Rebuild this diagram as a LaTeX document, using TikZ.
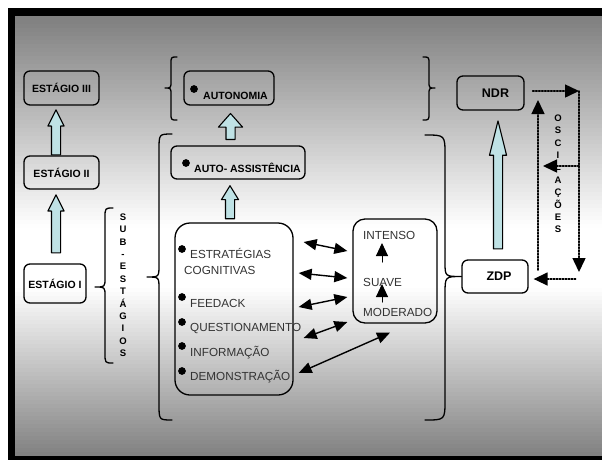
\documentclass[tikz,border=0pt]{standalone}
\usepackage{fontspec}
\setmainfont{Liberation Sans}
\usetikzlibrary{arrows.meta,shapes.arrows,calc}
\definecolor{fundo}{rgb}{0.5,0.5,0.5}
\definecolor{setaazul}{rgb}{0.75,0.886,0.9}
\definecolor{texto}{rgb}{0.2,0.2,0.2}
\begin{document}
\begin{tikzpicture}[x=1pt,y=-1pt,line join=round,line cap=round]
	\tikzset{caixa/.style={draw,rounded corners=6pt,line width=1.3pt,inner sep=0pt,font=\fontsize{10.5}{12}\selectfont\bfseries},
		seta/.style={single arrow,draw,fill=setaazul,line width=1.1pt,rotate=90,anchor=tip,inner xsep=0pt,inner ysep=4pt,minimum width=0pt},
		txt/.style={anchor=base west,inner sep=0pt,text=texto,font=\fontsize{11.7}{13}\selectfont},
		rotulo/.style={anchor=base west,inner sep=0pt,font=\fontsize{10.5}{12}\selectfont\bfseries},
		marca/.style={circle,draw,fill=black,line width=0.6pt,inner sep=0pt,minimum size=7pt},
		letra/.style={anchor=base,inner sep=0pt,font=\fontsize{9.5}{10}\selectfont\bfseries},
		chave/.style={line width=1.3pt},
		dupla/.style={{Triangle[length=13pt,width=11pt]}-{Triangle[length=13pt,width=11pt]},line width=1.4pt},
		setinha/.style={-{Triangle[length=13pt,width=12pt]},line width=1pt},
		ponto/.style={-{Triangle[length=14pt,width=13pt]},line width=1.5pt,dash pattern=on 1.5pt off 1.5pt}}
	\clip (0,0) rectangle (602,459);
	% moldura e fundo degrade
	\fill[white] (0,0) rectangle (602,459);
	\fill[black] (8,8) rectangle (610,467);
	\foreach \i in {0,...,109}{
		\pgfmathsetmacro\yy{16+4*\i}
		\pgfmathsetmacro\p{min(100,min((\yy-16)/209,(455-\yy)/170)*100)}
		\fill[white!\p!fundo] (15,\yy) rectangle (606,\yy+4.4);
	}
	% estagios
	\node[caixa,minimum width=75pt,minimum height=34pt] (est3) at (61.5,88) {ESTÁGIO III};
	\node[caixa,minimum width=75pt,minimum height=33pt] (est2) at (61.5,172.5) {ESTÁGIO II};
	\node[caixa,minimum width=62pt,minimum height=39pt] (est1) at (55,283.5) {ESTÁGIO I};
	\node[seta,minimum height=58pt,single arrow head extend=3.5pt,single arrow tip angle=53] (s1) at ($(est1.north |- est2.south)+(1,4)$) {};
	\node[seta,minimum height=45pt,single arrow head extend=3.5pt,single arrow tip angle=53] (s2) at ($(est1.north |- est3.south)+(1,3)$) {};
	\draw[chave] (113,208) .. controls (105,208) .. (105,218) -- (105,278) .. controls (105,287) .. (95,287)
		.. controls (105,287) .. (105,296) -- (105,353) .. controls (105,363) .. (113,363);
	\foreach \l [count=\i] in {S,U,B,-,E,S,T,Á,G,I,O,S}
		\node[letra] (sub\i) at (123,207.9+12.4*\i) {\l};
	% autonomia
	\node[caixa,minimum width=90pt,minimum height=34pt] (auton) at (229,88) {};
	\node[marca] (m1) at (194,89) {};
	\node[rotulo] (r1) at (203,99) {AUTONOMIA};
	\node[caixa,minimum width=134pt,minimum height=33pt] (autoass) at (238,162.5) {};
	\node[marca] (m2) at (186,163) {};
	\node[rotulo] (r2) at (194,172) {AUTO- ASSISTÊNCIA};
	\node[seta,minimum height=26pt,single arrow head extend=7.5pt,single arrow tip angle=83] (s4) at ($(auton.south)+(1.5,7)$) {};
	\node[seta,minimum height=33pt,single arrow head extend=4pt,single arrow tip angle=63] (s3) at ($(auton.south |- autoass.south)+(1,5)$) {};
	\draw[chave] (177,57) .. controls (171,57) .. (171,64) -- (171,81) .. controls (171,88) .. (165,88)
		.. controls (171,88) .. (171,95) -- (171,113) .. controls (171,120) .. (177,120);
	\draw[chave] (423,57) .. controls (429,57) .. (429,64) -- (429,81) .. controls (429,88) .. (435,88)
		.. controls (429,88) .. (429,95) -- (429,113) .. controls (429,120) .. (423,120);
	% estrategias
	\node[caixa,rounded corners=15pt,minimum width=118pt,minimum height=172pt] (estrat) at (234,309) {};
	\foreach \y [count=\i] in {249,297,322,346,371}
		\node[marca] (b\i) at (182,\y) {};
	\node[txt] (t1) at (190,258) {ESTRATÉGIAS};
	\node[txt] (t2) at (184,274) {COGNITIVAS};
	\node[txt] (t3) at (190,307) {FEEDACK};
	\node[txt] (t4) at (190,331) {QUESTIONAMENTO};
	\node[txt] (t5) at (190,356) {INFORMAÇÃO};
	\node[txt] (t6) at (190,380) {DEMONSTRAÇÃO};
	% intensidade
	\node[caixa,rounded corners=12pt,minimum width=84pt,minimum height=104pt] (intens) at (395,271) {};
	\node[txt] (i1) at (363,239) {INTENSO};
	\node[txt] (i2) at (363,286) {SUAVE};
	\node[txt] (i3) at (363,316) {MODERADO};
	\draw[setinha] ($(intens.center)+(-13,-9)$) -- ++(0,-19);
	\draw[setinha] ($(intens.center)+(-13,31)$) -- ++(0,-18);
	\draw[dupla] ($(estrat.east)+(10,-67)$) -- ($(intens.west)+(-5,-20)$);
	\draw[dupla] ($(estrat.east)+(5,-36)$) -- ($(intens.west)+(-5,7)$);
	\draw[dupla] ($(estrat.east)+(5,-2)$) -- ($(intens.west)+(-5,26)$);
	\draw[dupla] ($(estrat.east)+(10,29)$) -- ($(intens.west)+(-5,51)$);
	\draw[dupla] ($(estrat.east)+(5,64)$) -- ($(intens.south)+(-5,9)$);
	% ZDP e NDR
	\node[caixa,font=\fontsize{12.5}{14}\selectfont\bfseries,minimum width=66pt,minimum height=33pt] (zdp) at (495,276.5) {\hspace*{8pt}ZDP};
	\node[caixa,font=\fontsize{12.5}{14}\selectfont\bfseries,minimum width=67pt,minimum height=34pt] (ndr) at (490.5,93) {\hspace*{10pt}NDR};
	\node[seta,minimum height=128pt,single arrow head extend=4pt,single arrow tip angle=28] (s5) at ($(ndr.south)+(7.5,8)$) {};
	\draw[chave] (172,134) .. controls (159,134) .. (159,150) -- (159,265) .. controls (159,277) .. (147,277)
		.. controls (159,277) .. (159,289) -- (159,404) .. controls (159,420) .. (172,420);
	\draw[chave] (425,135) .. controls (445,135) .. (445,155) -- (445,262) .. controls (445,276.5) .. (zdp.west)
		.. controls (445,276.5) .. (445,294) -- (445,400) .. controls (445,420) .. (425,420);
	% oscilacoes
	\foreach \l [count=\i] in {O,S,C,I,L,A,Ç,Õ,E,S}
		\node[letra] (osc\i) at (558,108.9+12.4*\i) {\l};
	\coordinate (c1) at (579,91);
	\coordinate (c2) at (579,272);
	\coordinate (c3) at (543,166);
	\coordinate (c4) at (538,100);
	\draw[ponto] ($(ndr.east)+(8,-2)$) -- (c1);
	\draw[ponto] (c1) -- (c2);
	\draw[ponto] (c1 |- c3) -- (c3);
	\draw[ponto] ($(c4)+(0,170)$) -- (c4);
	\draw[ponto] ($(zdp.east)+(47,2.5)$) -- ($(zdp.east)+(5,2.5)$);
\end{tikzpicture}
\end{document}
